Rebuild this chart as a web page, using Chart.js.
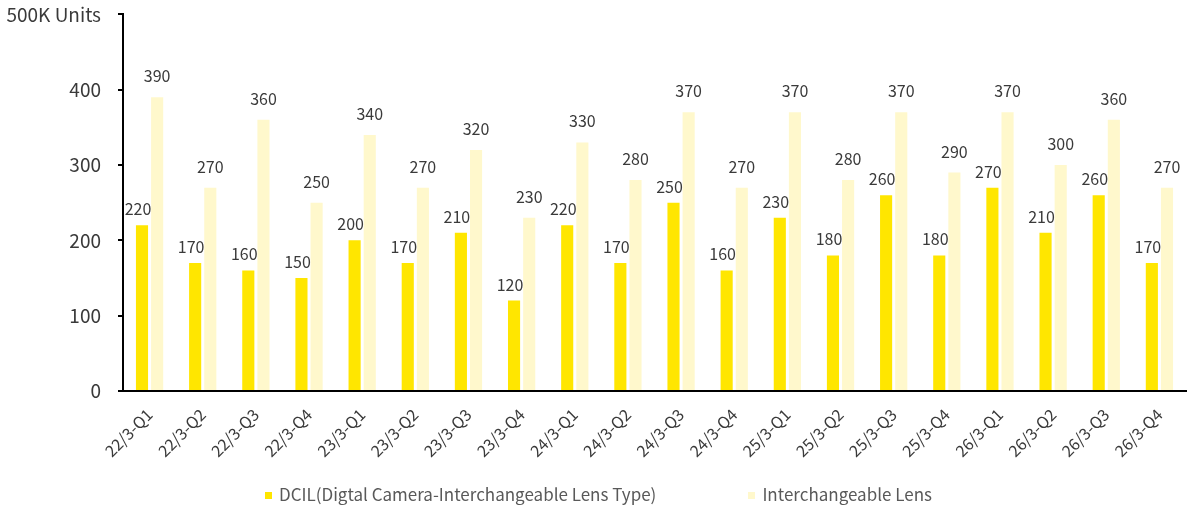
<!DOCTYPE html>
<html>
<head>
<meta charset="utf-8">
<script src="https://cdn.jsdelivr.net/npm/chart.js@4"></script>
<style>
  body { margin: 0; background: #fff; }
  #wrap { position: relative; width: 1191px; height: 511px; overflow: hidden; }
  #plot { position: absolute; left: 0; top: -14px; width: 1191px; height: 525px; }
  #legend {
    position: absolute; left: 6px; right: 0; top: 481px;
    text-align: center; white-space: nowrap;
    font: 17px "Noto Sans CJK JP", "Noto Sans", sans-serif; color: #595959;
  }
  #legend span { display: inline-block; margin: 0 46px; }
  #legend i { display: inline-block; width: 7px; height: 7px; margin-right: 7px; vertical-align: 2px; }
</style>
</head>
<body>
<div id="wrap">
  <div id="plot"><canvas id="chart"></canvas></div>
  <div id="legend"></div>
</div>
<script>
// ================== Data ==================
const quarters = [
    '22/3-Q1', '22/3-Q2', '22/3-Q3', '22/3-Q4',
    '23/3-Q1', '23/3-Q2', '23/3-Q3', '23/3-Q4',
    '24/3-Q1', '24/3-Q2', '24/3-Q3', '24/3-Q4',
    '25/3-Q1', '25/3-Q2', '25/3-Q3', '25/3-Q4',
    '26/3-Q1', '26/3-Q2', '26/3-Q3', '26/3-Q4'
];
const dcilUnits = [220, 170, 160, 150, 200, 170, 210, 120, 220, 170, 250, 160, 230, 180, 260, 180, 270, 210, 260, 170];
const lensUnits = [390, 270, 360, 250, 340, 270, 320, 230, 330, 280, 370, 270, 370, 280, 370, 290, 370, 300, 360, 270];
const yTicks = [0, 100, 200, 300, 400, 500];
const yTopLabel = '500K Units';

const FONT = '"Noto Sans CJK JP", "Noto Sans", sans-serif';
const TEXT = '#3a3a3a';

// value labels above bars (dx, gap per dataset)
const labelOffsets = [{ dx: -4, gap: 10 }, { dx: 0, gap: 15 }];
const barValueLabels = {
    id: 'barValueLabels',
    afterDatasetsDraw(chart) {
        const ctx = chart.ctx;
        ctx.save();
        ctx.font = '16px ' + FONT;
        ctx.fillStyle = TEXT;
        ctx.textAlign = 'center';
        ctx.textBaseline = 'alphabetic';
        chart.data.datasets.forEach((ds, i) => {
            const off = labelOffsets[i];
            chart.getDatasetMeta(i).data.forEach((bar, j) => {
                ctx.fillText(ds.data[j], bar.x + off.dx, bar.y - off.gap);
            });
        });
        ctx.restore();
    }
};

const chart = new Chart(document.getElementById('chart'), {
    type: 'bar',
    data: {
        labels: quarters,
        datasets: [
            {
                label: 'DCIL(Digtal Camera-Interchangeable Lens Type)',
                data: dcilUnits,
                backgroundColor: '#ffe600',
                categoryPercentage: 0.57,
                barPercentage: 0.8
            },
            {
                label: 'Interchangeable Lens',
                data: lensUnits,
                backgroundColor: '#fff8cc',
                categoryPercentage: 0.57,
                barPercentage: 0.8
            }
        ]
    },
    options: {
        responsive: true,
        maintainAspectRatio: false,
        animation: false,
        layout: { padding: { top: 0, right: 5, left: 0, bottom: 0 } },
        plugins: {
            legend: { display: false },
            tooltip: { enabled: false }
        },
        scales: {
            x: {
                afterFit: s => { s.height = 120; },
                grid: { display: false, drawTicks: false },
                border: { display: true, color: '#000', width: 2 },
                ticks: {
                    minRotation: 45,
                    maxRotation: 45,
                    padding: 14,
                    color: TEXT,
                    font: { family: FONT, size: 16 }
                }
            },
            y: {
                min: 0,
                max: 500,
                afterFit: s => { s.width = 123; },
                afterBuildTicks: axis => { axis.ticks = yTicks.map(v => ({ value: v })); },
                grid: { drawOnChartArea: false, drawTicks: true, tickLength: 5, color: '#000', lineWidth: 2 },
                border: { display: true, color: '#000', width: 2 },
                ticks: {
                    padding: 17,
                    color: TEXT,
                    font: { family: FONT, size: 19 },
                    callback: v => v === 500 ? yTopLabel : v
                }
            }
        }
    },
    plugins: [barValueLabels]
});

// legend below the chart
document.getElementById('legend').innerHTML = chart.data.datasets
    .map(ds => `<span><i style="background:${ds.backgroundColor}"></i>${ds.label}</span>`)
    .join('');
</script>
</body>
</html>
